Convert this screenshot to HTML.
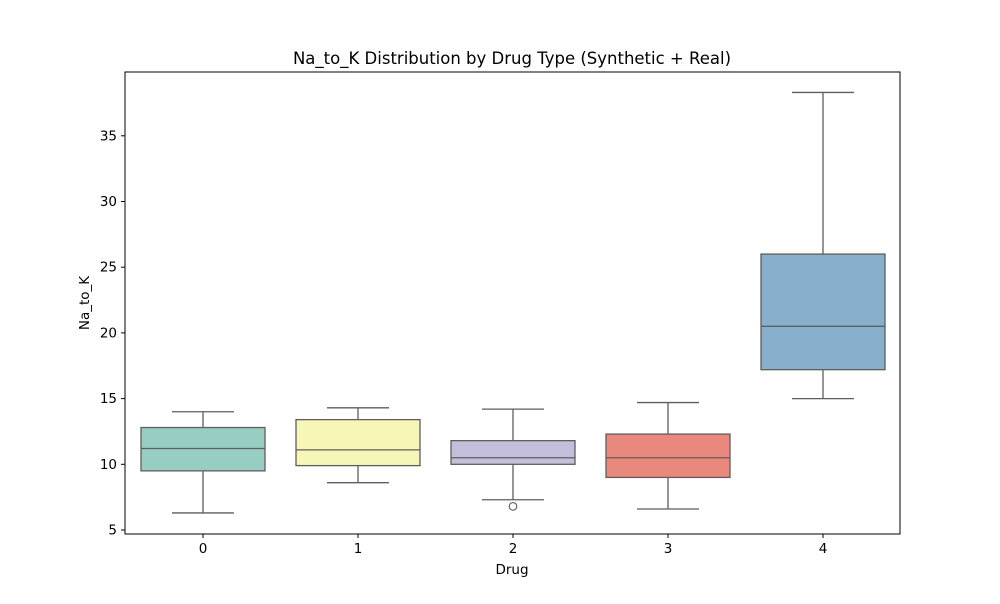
<!DOCTYPE html>
<html><head><meta charset="utf-8"><style>
body{margin:0;background:#fff;font-family:"DejaVu Sans","Liberation Sans",sans-serif;}
svg text{font-family:"DejaVu Sans","Liberation Sans",sans-serif;}
</style></head><body>
<svg id="chart" width="1000" height="600" xmlns="http://www.w3.org/2000/svg">
<rect width="1000" height="600" fill="#fff"/>
<text x="512" y="64" text-anchor="middle" font-size="16.5" fill="#000">Na_to_K Distribution by Drug Type (Synthetic + Real)</text>
<g id="marks"></g>
<rect x="125" y="72" width="775" height="462" fill="none" stroke="#000" stroke-width="1"/>
<g id="axes"></g>
<text x="512" y="574" text-anchor="middle" font-size="13.5">Drug</text>
<text transform="translate(89,303) rotate(-90)" text-anchor="middle" font-size="13.5">Na_to_K</text>
</svg>
<script>
const categories=["0","1","2","3","4"];
const whiskerLow=[6.3,8.6,7.3,6.6,15.0];
const q1=[9.5,9.9,10.0,9.0,17.2];
const medians=[11.2,11.1,10.5,10.5,20.5];
const q3=[12.8,13.4,11.8,12.3,26.0];
const whiskerHigh=[14.0,14.3,14.2,14.7,38.3];
const outliers=[[],[],[6.8],[],[]];
const yTicks=[5,10,15,20,25,30,35];
const colors=["#97cdc2","#f6f6b6","#c3bfda","#e9897e","#88b0cc"];
const NS="http://www.w3.org/2000/svg";
function y(v){return 530-(v-5)*13.14;}
function x(i){return 203+i*155;}
function mk(t,a,p){const e=document.createElementNS(NS,t);for(const k in a)e.setAttribute(k,a[k]);p.appendChild(e);return e;}
const marks=document.getElementById('marks'),axes=document.getElementById('axes');
const st="#5e5e5e";
categories.forEach((c,i)=>{
  const cx=x(i),w=124;
  const g=mk('g',{},marks);
  
  
  mk('line',{x1:cx,x2:cx,y1:y(whiskerLow[i]),y2:y(q1[i]),stroke:st,'stroke-width':1.3},g);
  mk('line',{x1:cx,x2:cx,y1:y(q3[i]),y2:y(whiskerHigh[i]),stroke:st,'stroke-width':1.3},g);
  mk('line',{x1:cx-w/4,x2:cx+w/4,y1:y(whiskerLow[i]),y2:y(whiskerLow[i]),stroke:st,'stroke-width':1.3},g);
  mk('line',{x1:cx-w/4,x2:cx+w/4,y1:y(whiskerHigh[i]),y2:y(whiskerHigh[i]),stroke:st,'stroke-width':1.3},g);
  mk('rect',{x:cx-w/2,y:y(q3[i]),width:w,height:y(q1[i])-y(q3[i]),fill:colors[i],stroke:st,'stroke-width':1.3},g);
  mk('line',{x1:cx-w/2,x2:cx+w/2,y1:y(medians[i]),y2:y(medians[i]),stroke:st,'stroke-width':1.3},g);
  outliers[i].forEach(o=>{
    const e=mk('circle',{cx:cx,cy:y(o),r:3.8,fill:'none',stroke:st,'stroke-width':1.1},g);
    
    
  });
  mk('line',{x1:cx,x2:cx,y1:534,y2:538,stroke:'#000'},axes);
  const t=mk('text',{x:cx,y:553,'text-anchor':'middle','font-size':13.5},axes);
  t.textContent=c;
  
  
});
yTicks.forEach(v=>{
  mk('line',{x1:121,x2:125,y1:y(v),y2:y(v),stroke:'#000'},axes);
  const t=mk('text',{x:117,y:y(v)+4.5,'text-anchor':'end','font-size':13.5},axes);
  t.textContent=v;
  
  
});
</script>
</body></html>
